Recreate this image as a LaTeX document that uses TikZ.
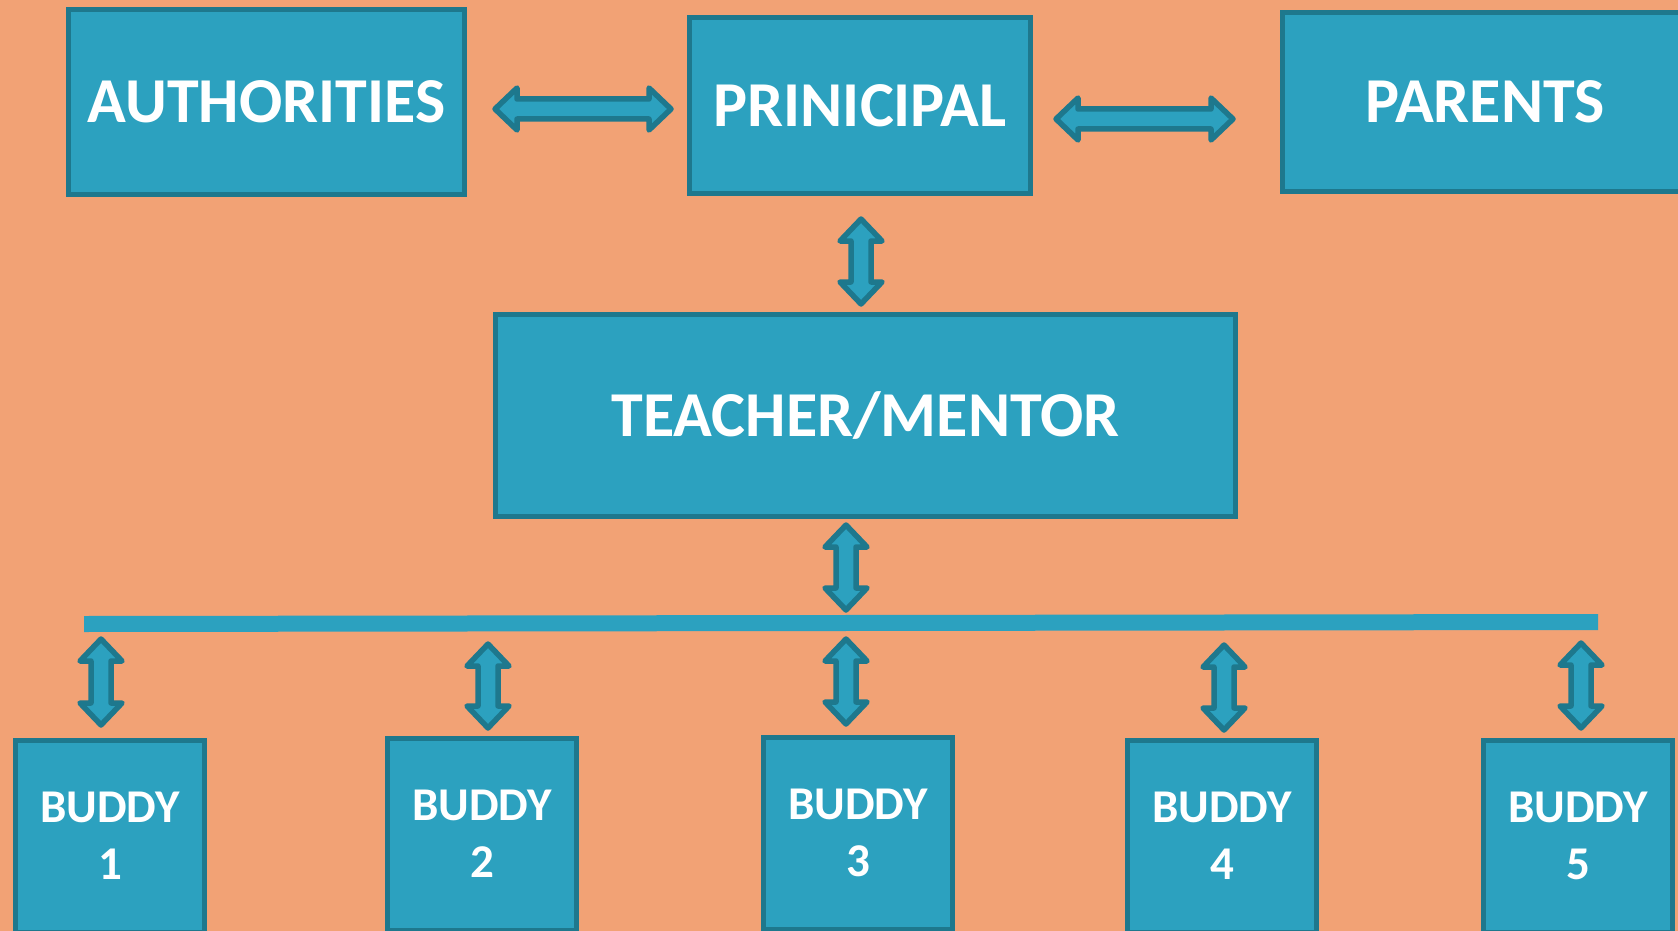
\documentclass[tikz,border=0pt]{standalone}
\usepackage{fontspec}
\setmainfont{Carlito}
\definecolor{bgpeach}{RGB}{242,162,117}
\definecolor{boxfill}{RGB}{44,161,191}
\definecolor{boxline}{RGB}{30,120,141}

\tikzset{
  box/.style={draw=boxline, fill=boxfill, line width=5pt, text=white,
    inner sep=0pt, align=center},
  bigtext/.style={font=\fontsize{64}{70}\selectfont\bfseries},
  buddytext/.style={font=\fontsize{47}{57}\selectfont\bfseries},
  blockarrow/.style={draw=boxline, fill=boxfill, line width=5.5pt, line join=round}
}

% double-headed block arrow: centre x, centre y, half length (horizontal)
\newcommand\harrow[3]{%
  \draw[blockarrow, shift={(#1,#2)}]
    (-#3,0) -- ({-#3+22},-21) -- ({-#3+22},-10) -- ({#3-22},-10) -- ({#3-22},-21)
    -- (#3,0) -- ({#3-22},21) -- ({#3-22},10) -- ({-#3+22},10) -- ({-#3+22},21) -- cycle;}
% same, vertical
\newcommand\varrow[3]{%
  \draw[blockarrow, shift={(#1,#2)}]
    (0,-#3) -- (-21,{-#3+22}) -- (-10,{-#3+22}) -- (-10,{#3-22}) -- (-21,{#3-22})
    -- (0,#3) -- (21,{#3-22}) -- (10,{#3-22}) -- (10,{-#3+22}) -- (21,{-#3+22}) -- cycle;}

\begin{document}
\begin{tikzpicture}[x=1pt, y=-1pt]
  \useasboundingbox (0,0) rectangle (1678,931);
  \fill[bgpeach] (0,0) rectangle (1678,931);
  \clip (0,0) rectangle (1678,931);

  % top row
  \node[box, bigtext, minimum width=396pt, minimum height=185pt] (auth) at (266.5,102) {AUTHORITIES};
  \node[box, bigtext, minimum width=341pt, minimum height=176pt] (prin) at (860,105.5) {PRINICIPAL};
  \node[box, bigtext, minimum width=405pt, minimum height=178pt] (par) at (1485,102) {PARENTS};

  % middle
  \node[box, bigtext, minimum width=740pt, minimum height=202pt] (teach) at (865.5,415.5) {TEACHER/MENTOR};

  % distribution bar
  \fill[boxfill] (84,616) -- (1598,614) -- (1598,630) -- (84,632) -- cycle;

  % buddies
  \node[box, buddytext, minimum width=189.5pt, minimum height=192pt] (b1) at (110,836) {BUDDY\\1};
  \node[box, buddytext, minimum width=189.5pt, minimum height=192pt] (b2) at (482,834) {BUDDY\\2};
  \node[box, buddytext, minimum width=189.5pt, minimum height=192pt] (b3) at (858,833) {BUDDY\\3};
  \node[box, buddytext, minimum width=189.5pt, minimum height=192pt] (b4) at (1222,836) {BUDDY\\4};
  \node[box, buddytext, minimum width=189.5pt, minimum height=192pt] (b5) at (1578,836) {BUDDY\\5};

  % links
  \harrow{583}{109}{88}
  \harrow{1144.5}{119}{88.5}
  \varrow{861}{261.5}{42.5}
  \varrow{846}{567.5}{42.5}
  \varrow{101}{682}{43}
  \varrow{488}{686}{42}
  \varrow{846}{681.5}{42.5}
  \varrow{1224}{687.5}{42.5}
  \varrow{1581}{685.5}{42.5}
\end{tikzpicture}
\end{document}
